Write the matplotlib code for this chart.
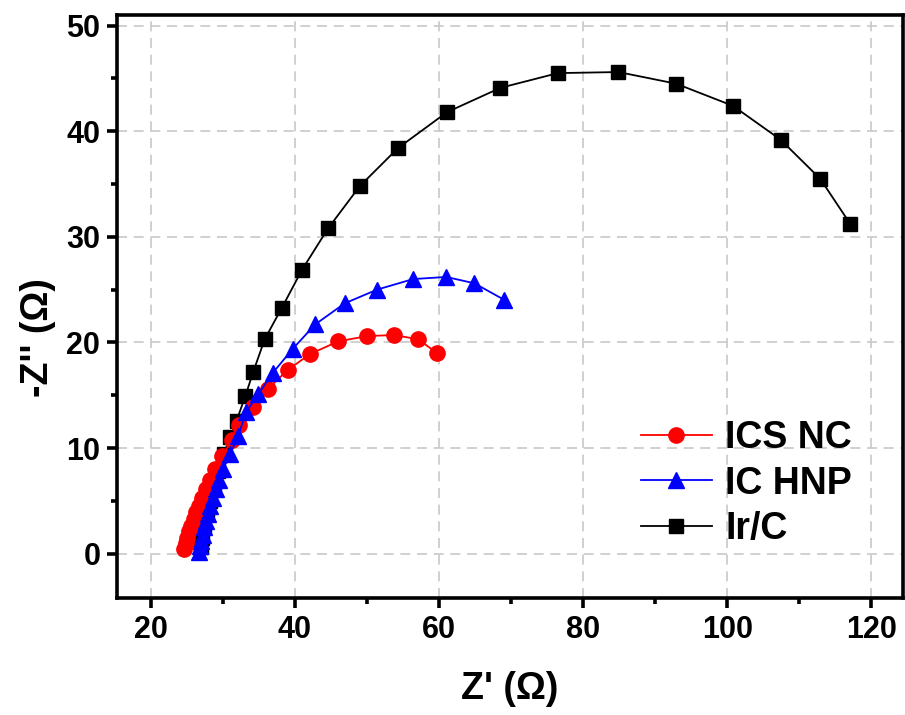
import matplotlib
matplotlib.use("Agg")
import matplotlib.pyplot as plt
from matplotlib.ticker import MultipleLocator

plt.rcParams['font.family'] = ['Liberation Sans', 'DejaVu Sans']
plt.rcParams['font.weight'] = 'bold'

ics_x = [24.6, 24.9, 25.0, 25.3, 25.6, 26.0, 26.25, 26.7, 27.1, 27.6, 28.2, 28.9, 29.9, 31.25,
         32.2, 34.2, 36.25, 39.0, 42.1, 46.0, 50.0, 53.75, 57.1, 59.7]
ics_y = [0.4, 1.0, 1.5, 2.1, 2.65, 3.3, 3.9, 4.5, 5.3, 6.1, 7.0, 8.0, 9.2, 10.8,
         12.2, 13.9, 15.6, 17.4, 18.9, 20.1, 20.6, 20.7, 20.3, 19.0]

ic_x = [26.7, 26.8, 26.9, 27.2, 27.4, 27.6, 27.9, 28.2, 28.6, 29.0, 29.4, 30.0, 31.0, 32.1,
        33.2, 34.9, 36.9, 39.7, 42.8, 46.9, 51.4, 56.4, 61.0, 64.9, 69.0]
ic_y = [0.2, 0.7, 1.2, 1.8, 2.5, 3.1, 3.8, 4.5, 5.3, 6.1, 7.0, 8.0, 9.4, 11.1,
        13.4, 15.1, 17.1, 19.4, 21.7, 23.7, 25.0, 26.0, 26.2, 25.6, 24.05]

ir_x = [26.9, 27.1, 27.4, 27.8, 28.2, 28.7, 29.3, 30.1, 31.0, 31.9, 33.1, 34.2, 35.8, 38.2,
        41.0, 44.6, 49.0, 54.3, 61.1, 68.5, 76.5, 84.9, 92.9, 100.8, 107.4, 112.9, 117.1]
ir_y = [0.6, 1.5, 2.6, 3.8, 5.0, 6.3, 7.8, 9.4, 11.0, 12.6, 14.9, 17.2, 20.3, 23.3,
        26.9, 30.8, 34.8, 38.4, 41.8, 44.1, 45.5, 45.6, 44.5, 42.4, 39.2, 35.5, 31.2]

x_ticks = [20, 40, 60, 80, 100, 120]
y_ticks = [0, 10, 20, 30, 40, 50]

fig = plt.figure(figsize=(9.05, 7.15), dpi=100)
ax = fig.add_axes([0.1293, 0.1636, 0.8685, 0.8154])

ax.plot(ir_x, ir_y, '-', color='black', lw=1.3, marker='s', ms=9.5,
        markerfacecolor='black', markeredgecolor='black', label='Ir/C', zorder=3)
ax.plot(ics_x, ics_y, '-', color='red', lw=1.3, marker='o', ms=11,
        markerfacecolor='red', markeredgecolor='red', label='ICS NC', zorder=4)
ax.plot(ic_x, ic_y, '-', color='blue', lw=1.3, marker='^', ms=11.5,
        markerfacecolor='blue', markeredgecolor='blue', label='IC HNP', zorder=5)

ax.set_xlim(15.3, 124.4)
ax.set_ylim(-4.2, 51.0)
ax.set_xticks(x_ticks)
ax.set_yticks(y_ticks)
ax.xaxis.set_minor_locator(MultipleLocator(10))
ax.yaxis.set_minor_locator(MultipleLocator(5))
ax.grid(True, which='major', color='#c8c8c8', linestyle=(0, (6, 4)), lw=1.2, zorder=0)
ax.set_axisbelow(True)

for s in ax.spines.values():
    s.set_linewidth(2.6)
ax.tick_params(which='major', direction='out', length=7, width=2.6, labelsize=22, pad=5)
ax.tick_params(which='minor', direction='out', length=4.5, width=2.6)
for lab in ax.get_xticklabels() + ax.get_yticklabels():
    lab.set_fontweight('bold')

ax.set_xlabel("Z' (Ω)", fontsize=27, fontweight='bold')
ax.set_ylabel("-Z'' (Ω)", fontsize=27, fontweight='bold')
ax.xaxis.set_label_coords(0.5, -0.125)
ax.yaxis.set_label_coords(-0.078, 0.446)

handles, labels = ax.get_legend_handles_labels()
order = [1, 2, 0]
leg = ax.legend([handles[i] for i in order], [labels[i] for i in order],
                loc='upper left', bbox_to_anchor=(0.633, 0.35), frameon=False,
                prop={'size': 27, 'weight': 'bold'}, handlelength=1.9,
                handletextpad=0.35, labelspacing=0.25, borderpad=0.2)

fig.savefig('out.png', dpi=100)
